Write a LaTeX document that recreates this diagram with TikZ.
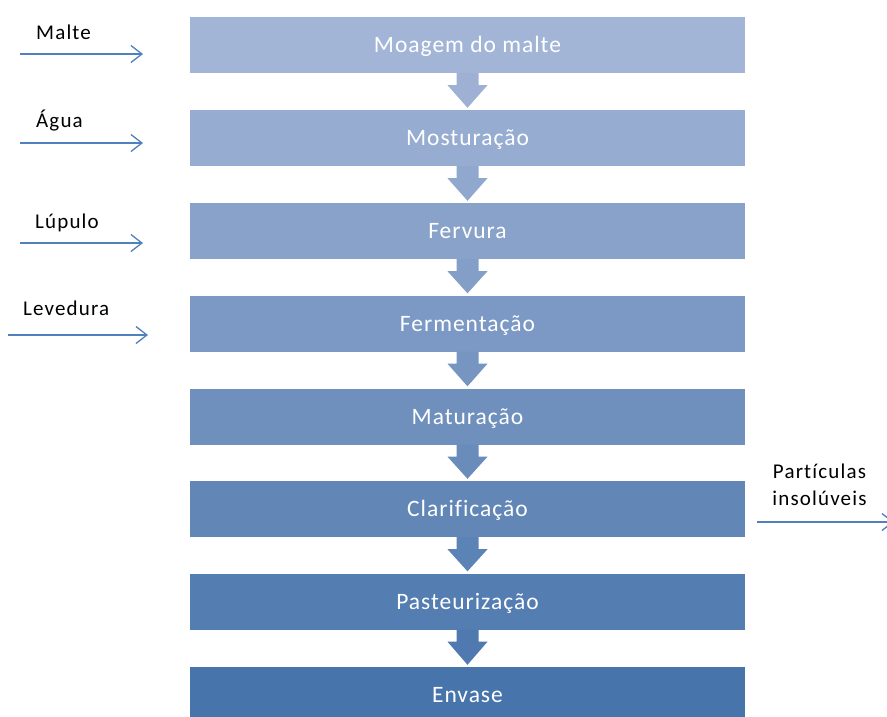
\documentclass[tikz,border=0pt]{standalone}
\usepackage{fontspec}
\setmainfont{Carlito}
\newfontfamily\boxfont[LetterSpace=4.2,Ligatures=NoCommon]{Carlito}
\newfontfamily\lblfont[LetterSpace=5.5,Ligatures=NoCommon]{Carlito}
\usetikzlibrary{arrows.meta,calc}
\definecolor{cTop}{RGB}{163,181,214}
\definecolor{cBot}{RGB}{71,116,171}
\definecolor{lineblue}{RGB}{79,129,189}
\colorlet{s1}{cTop}
\colorlet{s2}{cBot!14!cTop}
\colorlet{s3}{cBot!29!cTop}
\colorlet{s4}{cBot!43!cTop}
\colorlet{s5}{cBot!57!cTop}
\colorlet{s6}{cBot!71!cTop}
\colorlet{s7}{cBot!86!cTop}
\colorlet{s8}{cBot}
\newcommand{\flowarrow}[3]{%
  \fill[#3] ($(#1.south)+(-11,0)$) -- ($(#1.south)+(11,0)$) -- ($(#1.south)+(11,12)$)
    -- ($(#1.south)+(20,12)$) -- ($(#2.north)+(0,-2)$) -- ($(#1.south)+(-20,12)$)
    -- ($(#1.south)+(-11,12)$) -- cycle;}
\begin{document}
\begin{tikzpicture}[x=1pt,y=-1pt,
  stage/.style={draw=none, minimum width=555pt, minimum height=56pt, inner sep=0pt,
    text=white, text height=15pt, text depth=0pt, font=\boxfont\fontsize{23.5}{28}\selectfont},
  lbl/.style={font=\lblfont\fontsize{21}{27}\selectfont, text=black, inner sep=0pt, anchor=base west},
  feed/.style={draw=lineblue, line width=1.3pt,
    -{Straight Barb[length=11pt,width=17pt,line width=1.3pt]}}
]
\useasboundingbox (0,0) rectangle (887,716);
\clip (0,0) rectangle (887,716);
% stages
\node[stage, fill=s1] (b1) at (467.5,45)  {Moagem do malte};
\node[stage, fill=s2] (b2) at (467.5,138) {Mosturação};
\node[stage, fill=s3] (b3) at (467.5,231) {Fervura};
\node[stage, fill=s4] (b4) at (467.5,323.5) {Fermentação};
\node[stage, fill=s5] (b5) at (467.5,416.5) {Maturação};
\node[stage, fill=s6] (b6) at (467.5,509) {Clarificação};
\node[stage, fill=s7] (b7) at (467.5,601.5) {Pasteurização};
\node[stage, fill=s8] (b8) at (467.5,695) {Envase};
% block arrows between stages
\flowarrow{b1}{b2}{s1!60!s2}
\flowarrow{b2}{b3}{s2!60!s3}
\flowarrow{b3}{b4}{s3!60!s4}
\flowarrow{b4}{b5}{s4!60!s5}
\flowarrow{b5}{b6}{s5!60!s6}
\flowarrow{b6}{b7}{s6!60!s7}
\flowarrow{b7}{b8}{s7!60!s8}
% inputs
\node[lbl] (tMalte) at (36,39) {Malte};
\node[lbl] (tAgua) at (36,127) {Água};
\node[lbl] (tLupulo) at (35,228) {Lúpulo};
\node[lbl] (tLeved) at (23,315) {Levedura};
\coordinate (m0) at (20,54);  \coordinate (m1) at (143,54);
\coordinate (a0) at (20,143); \coordinate (a1) at (143,143);
\coordinate (l0) at (20,243); \coordinate (l1) at (143,243);
\coordinate (v0) at (8,335);  \coordinate (v1) at (148,335);
\draw[feed] (m0) -- (m1);
\draw[feed] (a0) -- (a1);
\draw[feed] (l0) -- (l1);
\draw[feed] (v0) -- (v1);
% output
\node[font=\lblfont\fontsize{21}{27}\selectfont, align=center, inner sep=0pt, anchor=north] (tPart) at (819.5,464) {Partículas\\insolúveis};
\coordinate (p0) at (757,522); \coordinate (p1) at (894,522);
\draw[feed] (p0) -- (p1);
\end{tikzpicture}
\end{document}
